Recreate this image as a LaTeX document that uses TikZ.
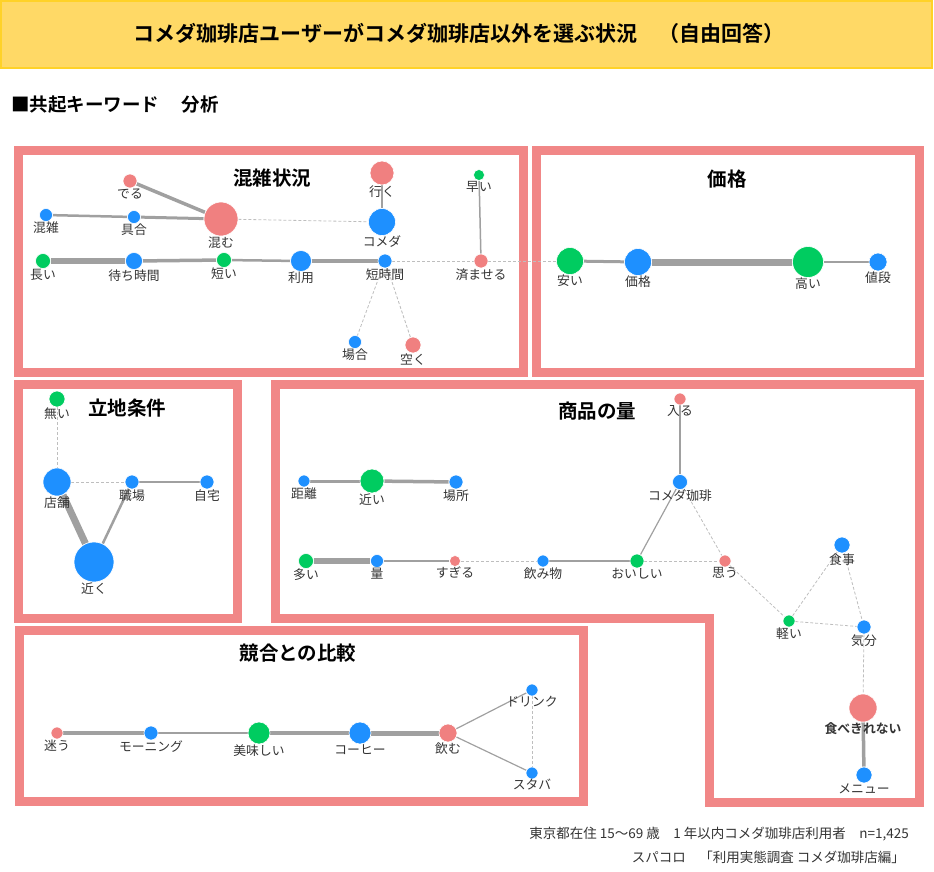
\documentclass[tikz,border=0pt]{standalone}
\usepackage{fontspec}
\setmainfont{Noto Sans CJK JP}[BoldFont={Noto Sans CJK JP Bold}]
\usepackage{tikz}
\usetikzlibrary{backgrounds}
\definecolor{saumon}{RGB}{240,128,128}
\definecolor{cadrerose}{RGB}{241,135,135}
\definecolor{bleuvif}{RGB}{30,144,255}
\definecolor{vertvif}{RGB}{0,204,96}
\definecolor{gris}{RGB}{160,160,160}
\definecolor{grisclair}{RGB}{190,190,190}
\definecolor{texte}{RGB}{51,51,51}
\definecolor{bandeau}{RGB}{255,217,102}
\definecolor{bandeaubord}{RGB}{255,210,40}
\tikzset{
  mot/.style={circle, draw=white, line width=0.6pt, inner sep=0pt, minimum size=#1,
    label distance=-1pt},
  rouge/.style={mot=#1, fill=saumon},
  bleu/.style={mot=#1, fill=bleuvif},
  vert/.style={mot=#1, fill=vertvif},
  every label/.style={font=\fontsize{12.8}{13}\selectfont, text=texte, inner sep=0pt},
  lien/.style={draw=gris, line width=#1},
  lien/.default=1.2pt,
  pointille/.style={draw=grisclair, dash pattern=on 3pt off 2pt, line width=0.8pt},
  cadre/.style={draw=cadrerose, line width=9pt},
  titre/.style={font=\fontsize{19.5}{20}\selectfont\bfseries},
  pied/.style={font=\fontsize{13.5}{14}\selectfont, text=texte, anchor=east, inner sep=0pt},
}

\begin{document}
\begin{tikzpicture}[x=1pt, y=-1pt]
    \useasboundingbox (0,0) rectangle (934,871);
    % En-tête
    \draw[fill=bandeau, draw=bandeaubord, line width=1.5pt] (1,1) rectangle (932,68);
    \node[font=\fontsize{21}{22}\selectfont\bfseries] (entete) at (459,33)
      {コメダ珈琲店ユーザーがコメダ珈琲店以外を選ぶ状況　（自由回答）};
    \node[font=\fontsize{18.5}{19}\selectfont\bfseries, anchor=west, inner sep=0pt] (soustitre) at (11,105)
      {■共起キーワード　 分析};
    % Cadres
    \begin{scope}[on background layer]
      \draw[cadre] (18.5,150.5) rectangle (523,372.5);
      \draw[cadre] (536,150.5) rectangle (919,372.5);
      \draw[cadre] (18.5,384) rectangle (237,618);
      \draw[cadre] (275,384) -- (919,384) -- (919,802.5) -- (709,802.5) -- (709,618) -- (275,618) -- cycle;
      \draw[cadre] (19,630) rectangle (583.5,801.5);
    \end{scope}
    % Partie 1 :混雑状況
    \node[titre] (t1) at (272,178) {混雑状況};
    \node[rouge=14pt, label=below:でる]       (deru)     at (130,181) {};
    \node[bleu=13pt, label=below:混雑]        (konzatsu) at (46,215)  {};
    \node[bleu=13pt, label=below:具合]        (guai)     at (134,217) {};
    \node[rouge=34pt, label=below:混む]       (komu)     at (221,219) {};
    \node[rouge=24pt, label=below:行く]       (iku)      at (382,173) {};
    \node[bleu=27pt, label=below:コメダ]      (komeda)   at (382,222) {};
    \node[vert=11pt, label=below:早い]        (hayai)    at (479,175) {};
    \node[vert=15pt, label=below:長い]        (nagai)    at (43,261)  {};
    \node[bleu=17pt, label=below:待ち時間]    (machi)    at (134,261) {};
    \node[vert=15pt, label=below:短い]        (mijikai)  at (224,260) {};
    \node[bleu=21pt, label=below:利用]        (riyou)    at (301,261) {};
    \node[bleu=14pt, label=below:短時間]      (tanjikan) at (385,261) {};
    \node[rouge=14pt, label=below:済ませる]   (sumaseru) at (481,261) {};
    \node[bleu=13pt, label=below:場合]        (baai)     at (355,342) {};
    \node[rouge=16pt, label=below:空く]       (aku)      at (413,345) {};
    % Partie 2 : 価格
    \node[titre] (t2) at (727,179) {価格};
    \node[vert=27pt, label=below:安い]        (yasui)    at (570,261) {};
    \node[bleu=27pt, label=below:価格]        (kakaku)   at (638,262) {};
    \node[vert=31pt, label=below:高い]        (takai)    at (808,262) {};
    \node[bleu=18pt, label=below:値段]        (nedan)    at (878,262) {};
    % Partie 3 : 立地条件
    \node[titre] (t3) at (127,408) {立地条件};
    \node[vert=16pt, label=below:無い]        (nai)      at (57,399)  {};
    \node[bleu=28pt, label=below:店舗]        (tenpo)    at (57,482)  {};
    \node[bleu=14pt, label=below:職場]        (shokuba)  at (132,482) {};
    \node[bleu=14pt, label=below:自宅]        (jitaku)   at (207,482) {};
    \node[bleu=40pt, label=below:近く]        (chikaku)  at (94,562)  {};
    % Partie 4 : 商品の量
    \node[titre] (t4) at (597,411) {商品の量};
    \node[rouge=12pt, label=below:入る]       (hairu)    at (680,399) {};
    \node[bleu=15pt, label=below:コメダ珈琲]  (komedak)  at (680,482) {};
    \node[bleu=12pt, label=below:距離]        (kyori)    at (304,481) {};
    \node[vert=24pt, label=below:近い]        (chikai)   at (372,481) {};
    \node[bleu=14pt, label=below:場所]        (basho)    at (456,482) {};
    \node[vert=15pt, label=below:多い]        (ooi)      at (306,561) {};
    \node[bleu=13pt, label=below:量]          (ryou)     at (377,561) {};
    \node[rouge=11pt, label=below:すぎる]     (sugiru)   at (455,561) {};
    \node[bleu=12pt, label=below:飲み物]      (nomimono) at (543,561) {};
    \node[vert=14pt, label=below:おいしい]    (oishii)   at (637,561) {};
    \node[rouge=12pt, label=below:思う]       (omou)     at (725,561) {};
    \node[bleu=16pt, label=below:食事]        (shokuji)  at (842,545) {};
    \node[vert=12pt, label=below:軽い]        (karui)    at (789,621) {};
    \node[bleu=14pt, label=below:気分]        (kibun)    at (864,627) {};
    \node[rouge=28pt, label={[font=\fontsize{12.8}{13}\selectfont\bfseries]below:食べきれない}] (tabekire) at (863,708) {};
    \node[bleu=16pt, label=below:メニュー]    (menu)     at (864,775) {};
    % Partie 5 : 競合との比較
    \node[titre] (t5) at (298,653) {競合との比較};
    \node[rouge=12pt, label=below:迷う]       (mayou)    at (57,733)  {};
    \node[bleu=14pt, label=below:モーニング]  (morning)  at (151,733) {};
    \node[vert=22pt, label=below:美味しい]    (bimi)     at (259,733) {};
    \node[bleu=22pt, label=below:コーヒー]    (coffee)   at (360,733) {};
    \node[rouge=18pt, label=below:飲む]       (nomu)     at (448,733) {};
    \node[bleu=12pt, label=below:ドリンク]    (drink)    at (532,690) {};
    \node[bleu=12pt, label=below:スタバ]      (staba)    at (532,773) {};
    % Liens
    \begin{scope}[on background layer]
      \draw[lien=3.5pt] (deru) -- (komu);
      \draw[lien=2.5pt] (konzatsu) -- (guai);
      \draw[lien=3pt] (guai) -- (komu);
      \draw[pointille] (komu) -- (komeda);
      \draw[lien=2.5pt] (iku) -- (komeda);
      \draw[lien=1.5pt] (hayai) -- (sumaseru);
      \draw[lien=6pt] (nagai) -- (machi);
      \draw[lien=3.5pt] (machi) -- (mijikai);
      \draw[lien=2.5pt] (mijikai) -- (riyou);
      \draw[lien=4pt] (riyou) -- (tanjikan);
      \draw[pointille] (tanjikan) -- (sumaseru);
      \draw[pointille] (sumaseru) -- (yasui);
      \draw[pointille] (tanjikan) -- (baai);
      \draw[pointille] (tanjikan) -- (aku);
      \draw[lien=3pt] (yasui) -- (kakaku);
      \draw[lien=7pt] (kakaku) -- (takai);
      \draw[lien=2pt] (takai) -- (nedan);
      \draw[pointille] (nai) -- (tenpo);
      \draw[pointille] (tenpo) -- (shokuba);
      \draw[lien=2pt] (shokuba) -- (jitaku);
      \draw[lien=7pt] (tenpo) -- (chikaku);
      \draw[lien=2.5pt] (shokuba) -- (chikaku);
      \draw[lien=2.5pt] (hairu) -- (komedak);
      \draw[lien=3pt] (kyori) -- (chikai);
      \draw[lien=3.5pt] (chikai) -- (basho);
      \draw[lien=6pt] (ooi) -- (ryou);
      \draw[lien=1.5pt] (ryou) -- (sugiru);
      \draw[pointille] (sugiru) -- (nomimono);
      \draw[lien=2pt] (nomimono) -- (oishii);
      \draw[lien] (oishii) -- (komedak);
      \draw[pointille] (komedak) -- (omou);
      \draw[pointille] (oishii) -- (omou);
      \draw[pointille] (omou) -- (karui);
      \draw[pointille] (karui) -- (shokuji);
      \draw[pointille] (shokuji) -- (kibun);
      \draw[pointille] (karui) -- (kibun);
      \draw[pointille] (kibun) -- (tabekire);
      \draw[lien=3.5pt] (tabekire) -- (menu);
      \draw[lien=4.5pt] (mayou) -- (morning);
      \draw[lien=2pt] (morning) -- (bimi);
      \draw[lien=4pt] (bimi) -- (coffee);
      \draw[lien=5pt] (coffee) -- (nomu);
      \draw[lien] (nomu) -- (drink);
      \draw[lien] (nomu) -- (staba);
      \draw[pointille] (drink) -- (staba);
    \end{scope}
    % Source
    \node[pied] (pied1) at (909,834) {東京都在住 15～69 歳　1 年以内コメダ珈琲店利用者　n=1,425};
    \node[pied] (pied2) at (905,857) {スパコロ　「利用実態調査 コメダ珈琲店編」};
\end{tikzpicture}
\end{document}
